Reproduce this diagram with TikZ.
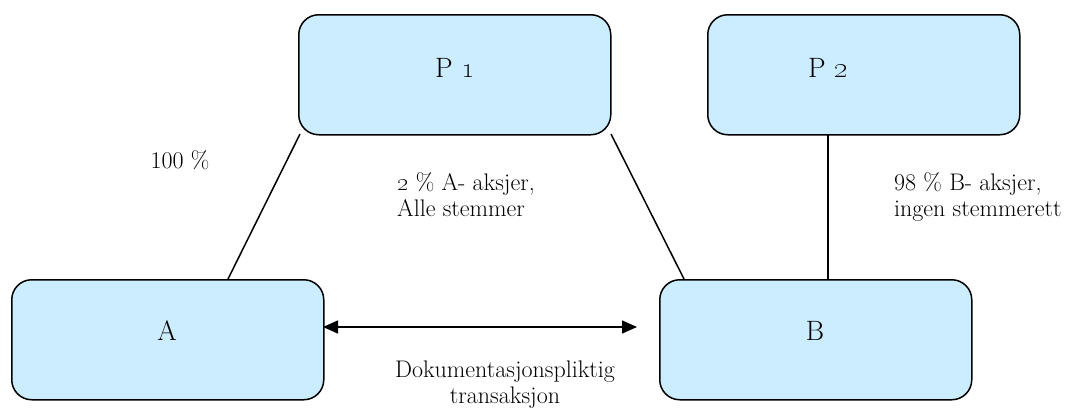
\documentclass[tikz,border=0pt]{standalone}
\usetikzlibrary{arrows.meta}
\definecolor{boxfill}{RGB}{204,236,255}
\begin{document}
\begin{tikzpicture}[x=1pt,y=-1pt,
  ent/.style={draw=black,line width=1.5pt,fill=boxfill,rounded corners=20pt,
    minimum width=312pt,minimum height=120pt,inner sep=0pt,anchor=north west},
  big/.style={font=\fontsize{28}{32}\selectfont},
  lbl/.style={font=\fontsize{24}{26}\selectfont,inner sep=0pt},
  conn/.style={line width=1.5pt}]
\useasboundingbox (0,0) rectangle (1073,410);
\node[ent] (P1) at (298,14) {};
\node[ent] (P2) at (707,14) {};
\node[ent] (A) at (11,279) {};
\node[ent] (B) at (659,279) {};
\node[big] (tP1) at (455,68) {P \oldstylenums{1}};
\node[big] (tP2) at (828,68) {P \oldstylenums{2}};
\node[big] (tA) at (167,331) {A};
\node[big] (tB) at (815,331) {B};
\coordinate (p1l) at (300,134);
\coordinate (at) at (228,279);
\coordinate (p1r) at (611,134);
\coordinate (bt) at (684,279);
\coordinate (p2b) at (828,135);
\coordinate (bt2) at (828,279);
\coordinate (ar) at (323,327);
\coordinate (bl) at (637,327);
\draw[conn] (p1l) -- (at);
\draw[conn] (p1r) -- (bt);
\draw[conn] (p2b) -- (bt2);
\draw[conn,{Triangle[length=15pt,width=13pt]}-{Triangle[length=15pt,width=13pt]}] (ar) -- (bl);
\node[lbl] (l100) at (180,160) {100 \%};
\node[lbl,align=left,anchor=north west] (l2) at (397,172) {\oldstylenums{2} \% A- aksjer,\\Alle stemmer};
\node[lbl,align=left,anchor=north west] (l98) at (894,172) {98 \% B- aksjer,\\ingen stemmerett};
\node[lbl,align=center] (ldok) at (505,385) {Dokumentasjonspliktig\\transaksjon};
\end{tikzpicture}
\end{document}
